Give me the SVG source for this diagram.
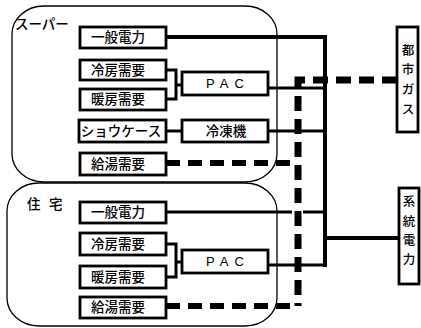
<svg xmlns="http://www.w3.org/2000/svg" width="421" height="328" viewBox="0 0 421 328">
<style>
.grp{fill:none;stroke:#000;stroke-width:1.3}
.box{fill:#fff;stroke:#000;stroke-width:2.8}
.t{font-family:"Noto Sans CJK JP","Noto Sans",sans-serif;font-size:13.5px;font-weight:500;fill:#000;text-anchor:middle}
.v{font-family:"Noto Sans CJK JP","Noto Sans",sans-serif;font-size:12.5px;font-weight:500;fill:#000;text-anchor:middle}
.lbl{font-family:"Noto Sans CJK JP","Noto Sans",sans-serif;font-size:13.5px;font-weight:500;fill:#000}
.pac{font-family:"Liberation Sans",Arial,sans-serif;font-size:13px;fill:#000;text-anchor:middle;letter-spacing:6px}
.ln{fill:none;stroke:#000;stroke-width:3}
.thk{fill:none;stroke:#000;stroke-width:4}
.dash{fill:none;stroke:#000;stroke-width:7;stroke-dasharray:15 8}
.dash2{fill:none;stroke:#000;stroke-width:6;stroke-dasharray:14 8}
</style>
<rect width="421" height="328" fill="#fff"/>
<g id="group-super">
<rect class="grp" x="12" y="6" width="265" height="176" rx="32" ry="28"/>
<text class="lbl" x="15" y="29">スーパー</text>
</g>
<g id="group-residence">
<rect class="grp" x="7" y="183" width="270" height="143" rx="32" ry="28"/>
<text class="lbl" x="27" y="209">住<tspan x="49">宅</tspan></text>
</g>
<g id="connectors">
<path class="thk" d="M166,37 H325 V267"/>
<path class="ln" d="M166,70 H176 V99 H166 M176,85 H182"/>
<path class="ln" d="M268,88 H325"/>
<path class="ln" d="M166,131 H182"/>
<path class="ln" d="M268,131 H325"/>
<path class="ln" d="M166,212 H292 M303,212 H325"/>
<path class="ln" d="M166,244 H176 V277 H166 M176,262 H182"/>
<path class="ln" d="M268,265 H325"/>
<path class="thk" d="M325,238 H399"/>
<path class="dash" d="M397,80 H298 V306"/>
<path class="dash2" d="M166,163 H296"/>
<path class="dash2" d="M166,306 H298"/>
</g>
<g id="super-power"><rect class="box" x="80" y="27" width="86" height="21"/><text class="t" x="118" y="42">一般電力</text></g>
<g id="super-cooling"><rect class="box" x="80" y="60" width="86" height="20"/><text class="t" x="118" y="75">冷房需要</text></g>
<g id="super-heating"><rect class="box" x="80" y="89" width="86" height="21"/><text class="t" x="118" y="104">暖房需要</text></g>
<g id="super-showcase"><rect class="box" x="79" y="120" width="87" height="22"/><text class="t" x="121" y="136">ショウケース</text></g>
<g id="super-hotwater"><rect class="box" x="80" y="153" width="86" height="22"/><text class="t" x="118" y="169">給湯需要</text></g>
<g id="super-pac"><rect class="box" x="182" y="72" width="86" height="23"/><text class="pac" x="228" y="88">PAC</text></g>
<g id="super-freezer"><rect class="box" x="182" y="120" width="86" height="22"/><text class="t" x="226" y="136">冷凍機</text></g>
<g id="res-power"><rect class="box" x="80" y="202" width="86" height="21"/><text class="t" x="118" y="217">一般電力</text></g>
<g id="res-cooling"><rect class="box" x="80" y="233" width="86" height="22"/><text class="t" x="118" y="249">冷房需要</text></g>
<g id="res-heating"><rect class="box" x="80" y="266" width="86" height="22"/><text class="t" x="118" y="282">暖房需要</text></g>
<g id="res-hotwater"><rect class="box" x="80" y="297" width="86" height="21"/><text class="t" x="118" y="312">給湯需要</text></g>
<g id="res-pac"><rect class="box" x="182" y="250" width="86" height="23"/><text class="pac" x="228" y="266">PAC</text></g>
<g id="city-gas"><rect class="box" x="397" y="27" width="21" height="105"/>
<text class="v" x="408" y="55">都</text><text class="v" x="408" y="74">市</text><text class="v" x="408" y="94">ガ</text><text class="v" x="408" y="114">ス</text></g>
<g id="grid-power"><rect class="box" x="399" y="188" width="20" height="96"/>
<text class="v" x="409" y="206">系</text><text class="v" x="409" y="226">統</text><text class="v" x="409" y="245">電</text><text class="v" x="409" y="264">力</text></g>
</svg>
